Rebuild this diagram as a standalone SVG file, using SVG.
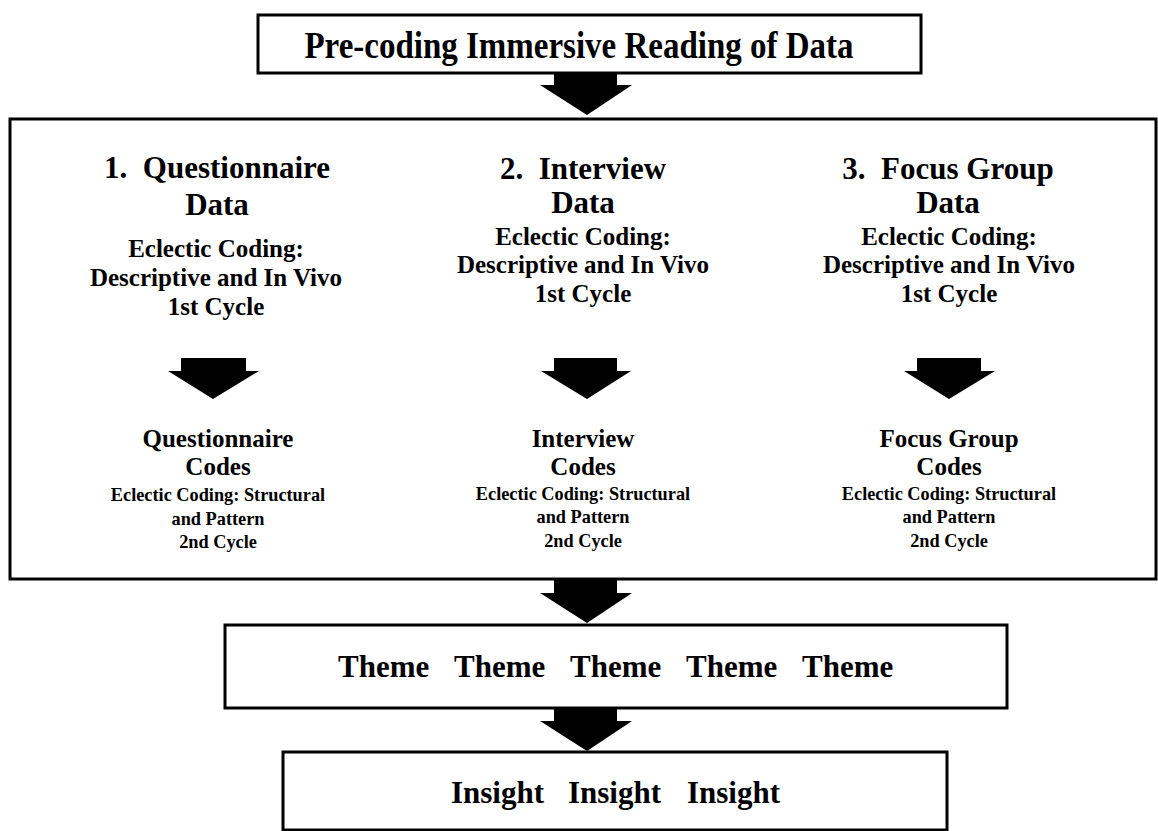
<svg xmlns="http://www.w3.org/2000/svg" width="1158" height="831" viewBox="0 0 1158 831">
  <style>
    .box { fill: #ffffff; stroke: #000000; stroke-width: 3; }
    .arrow { fill: #000000; stroke: none; }
    text { font-family: "Liberation Serif", "Times New Roman", serif; font-weight: bold; fill: #000000; }
    .c { text-anchor: middle; }
    .t33 { font-size: 33px; }
    .t31 { font-size: 31px; }
    .t25 { font-size: 25px; }
    .t18 { font-size: 18.3px; }
  </style>
  <rect width="1158" height="831" fill="#ffffff"/>

  <g id="node-precoding">
    <rect class="box" x="258" y="15" width="663" height="58"/>
    <text class="t33 c" x="579" y="0" transform="translate(0,58) scale(1,1.18)">Pre-coding Immersive Reading of Data</text>
  </g>

  <g id="node-coding-stage">
    <rect class="box" x="10" y="119" width="1146" height="460"/>
  </g>

  <g id="node-questionnaire-data">
    <text class="t31 c" x="217" y="178">1.&#160; Questionnaire</text>
    <text class="t31 c" x="217" y="215">Data</text>
    <text class="t25 c" x="216" y="257">Eclectic Coding:</text>
    <text class="t25 c" x="216" y="286">Descriptive and In Vivo</text>
    <text class="t25 c" x="216" y="315">1st Cycle</text>
  </g>

  <g id="node-interview-data">
    <text class="t31 c" x="583" y="179">2.&#160; Interview</text>
    <text class="t31 c" x="583" y="213">Data</text>
    <text class="t25 c" x="583" y="245">Eclectic Coding:</text>
    <text class="t25 c" x="583" y="273">Descriptive and In Vivo</text>
    <text class="t25 c" x="583" y="302">1st Cycle</text>
  </g>

  <g id="node-focus-group-data">
    <text class="t31 c" x="948" y="179">3.&#160; Focus Group</text>
    <text class="t31 c" x="948" y="213">Data</text>
    <text class="t25 c" x="949" y="245">Eclectic Coding:</text>
    <text class="t25 c" x="949" y="273">Descriptive and In Vivo</text>
    <text class="t25 c" x="949" y="302">1st Cycle</text>
  </g>

  <g id="node-questionnaire-codes">
    <text class="t25 c" x="218" y="447">Questionnaire</text>
    <text class="t25 c" x="218" y="475">Codes</text>
    <text class="t18 c" x="218" y="501">Eclectic Coding: Structural</text>
    <text class="t18 c" x="218" y="525">and Pattern</text>
    <text class="t18 c" x="218" y="548">2nd Cycle</text>
  </g>

  <g id="node-interview-codes">
    <text class="t25 c" x="583" y="447">Interview</text>
    <text class="t25 c" x="583" y="475">Codes</text>
    <text class="t18 c" x="583" y="500">Eclectic Coding: Structural</text>
    <text class="t18 c" x="583" y="523">and Pattern</text>
    <text class="t18 c" x="583" y="547">2nd Cycle</text>
  </g>

  <g id="node-focus-group-codes">
    <text class="t25 c" x="949" y="447">Focus Group</text>
    <text class="t25 c" x="949" y="475">Codes</text>
    <text class="t18 c" x="949" y="500">Eclectic Coding: Structural</text>
    <text class="t18 c" x="949" y="523">and Pattern</text>
    <text class="t18 c" x="949" y="547">2nd Cycle</text>
  </g>

  <g id="node-themes">
    <rect class="box" x="225" y="625" width="782" height="83"/>
    <text class="t31" x="338" y="677">Theme</text>
    <text class="t31" x="454" y="677">Theme</text>
    <text class="t31" x="570" y="677">Theme</text>
    <text class="t31" x="686" y="677">Theme</text>
    <text class="t31" x="802" y="677">Theme</text>
  </g>

  <g id="node-insights">
    <rect class="box" x="283" y="752" width="664" height="78"/>
    <text class="t31" x="451" y="803">Insight</text>
    <text class="t31" x="568" y="803">Insight</text>
    <text class="t31" x="687" y="803">Insight</text>
  </g>

  <g id="connectors">
    <polygon class="arrow" points="554,72 617,72 617,85 632,85 587,115 540,85 554,85"/>
    <polygon class="arrow" points="181,358 246,358 246,371 259,371 213,399 168,371 181,371"/>
    <polygon class="arrow" points="554,358 617,358 617,371 631,371 587,399 541,371 554,371"/>
    <polygon class="arrow" points="917,358 981,358 981,371 995,371 949,399 904,371 917,371"/>
    <polygon class="arrow" points="554,579 617,579 617,593 632,593 587,623 540,593 554,593"/>
    <polygon class="arrow" points="554,707 617,707 617,721 632,721 587,751 540,721 554,721"/>
  </g>
</svg>
